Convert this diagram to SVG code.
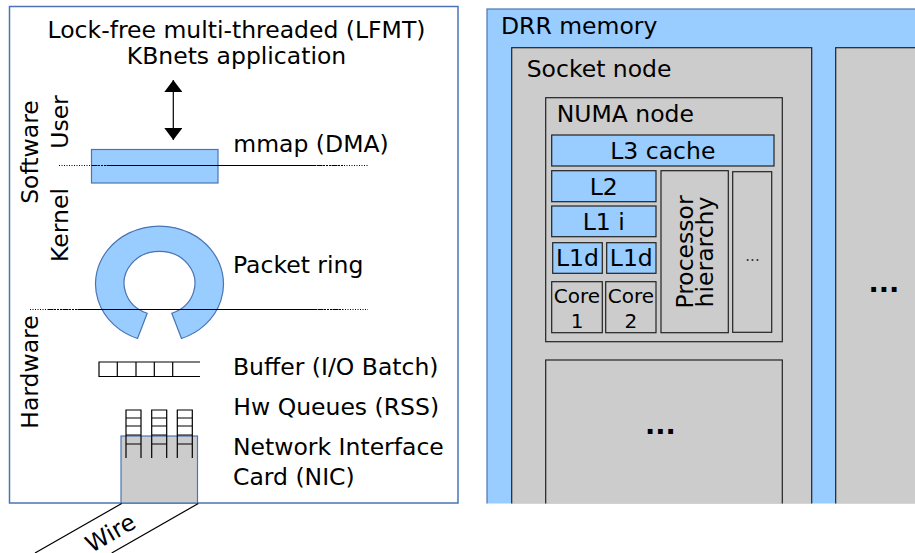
<svg xmlns="http://www.w3.org/2000/svg" width="915" height="553" viewBox="0 0 915 553">
  <style>
    text { font-family: "DejaVu Sans", "Liberation Sans", sans-serif; font-size: 23.5px; fill: #000; }
    .mid { text-anchor: middle; }
    .panel { fill: #fff; stroke: #4a74b5; stroke-width: 1.5; }
    .blue { fill: #99ccff; stroke: #4a74b5; stroke-width: 1.2; }
    .cache { fill: #99ccff; stroke: #222; stroke-width: 1.2; }
    .grey { fill: #cccccc; stroke: #222; stroke-width: 1.2; }
    .greyb { fill: #cccccc; stroke: #4a74b5; stroke-width: 1.2; }
    .ink { fill: none; stroke: #000; stroke-width: 1.2; }
    .dot { fill: none; stroke: #000; stroke-width: 1; stroke-dasharray: 1 1.5; }
    .dash { fill: none; stroke: #000; stroke-width: 1.1; stroke-dasharray: 2 1; }
    .core { font-size: 20px; }
    .small { font-size: 15px; fill: #333; }
    .dots { font-size: 27px; font-weight: bold; }
  </style>
  <defs>
    <marker id="head" viewBox="0 0 12 18" refX="12" refY="9" markerWidth="12" markerHeight="18" markerUnits="userSpaceOnUse" orient="auto-start-reverse">
      <path d="M0,0 L12,9 L0,18 Z" fill="#000"/>
    </marker>
    <clipPath id="cut">
      <rect x="0" y="0" width="915" height="503.5"/>
    </clipPath>
  </defs>

  <!-- Left: software / hardware stack -->
  <g id="stack-panel">
    <rect class="panel" x="9.5" y="6.5" width="448.5" height="496.5"/>
  </g>

  <g id="application">
    <text class="mid" x="236.5" y="38">Lock-free multi-threaded (LFMT)</text>
    <text class="mid" x="236.5" y="64">KBnets application</text>
  </g>

  <g id="layer-labels">
    <text class="mid" transform="translate(38,152) rotate(-90)">Software</text>
    <text class="mid" transform="translate(68,122) rotate(-90)">User</text>
    <text class="mid" transform="translate(68,225) rotate(-90)">Kernel</text>
    <text class="mid" transform="translate(38,372) rotate(-90)">Hardware</text>
  </g>

  <g id="mmap">
    <rect class="blue" x="91.5" y="149.5" width="126.5" height="33.5"/>
    <text x="233.3" y="151.5">mmap (DMA)</text>
  </g>

  <g id="packet-ring">
    <path class="blue" d="M137.5,338.5 A64,58 0 1 1 181.5,338.5 L171.8,313.3 A35.4,32 0 1 0 147.2,313.3 Z"/>
    <text x="233" y="273.3">Packet ring</text>
  </g>

  <g id="buffer">
    <path class="ink" d="M200,362 H99 V376.5 H200 M117.3,362 V376.5 M136,362 V376.5 M154.3,362 V376.5 M172.7,362 V376.5"/>
    <text x="233" y="375">Buffer (I/O Batch)</text>
  </g>

  <g id="nic">
    <rect class="greyb" x="121" y="436" width="76.5" height="67"/>
    <text x="233" y="455">Network Interface</text>
    <text x="233" y="485">Card (NIC)</text>
  </g>

  <g id="hw-queues">
    <path class="ink" d="M126,458 V410 H141 V458 M126,418 H141 M126,426 H141 M126,435 H141 M126,444 H141"/>
    <path class="ink" d="M151.7,458 V410 H166.7 V458 M151.7,418 H166.7 M151.7,426 H166.7 M151.7,435 H166.7 M151.7,444 H166.7"/>
    <path class="ink" d="M177.3,458 V410 H192.3 V458 M177.3,418 H192.3 M177.3,426 H192.3 M177.3,435 H192.3 M177.3,444 H192.3"/>
    <text x="233.3" y="415">Hw Queues (RSS)</text>
  </g>

  <g id="wire">
    <path class="ink" d="M121.7,503.5 L35,553 M198.3,503.5 L111.7,553"/>
    <text class="mid" transform="translate(114.5,540) rotate(-29.8)">Wire</text>
  </g>

  <!-- Right: memory / processor hierarchy -->
  <g clip-path="url(#cut)">
    <g id="drr-memory">
      <rect class="blue" x="487" y="9" width="440" height="520"/>
      <text x="501" y="33.5">DRR memory</text>
    </g>
    <g id="socket-node">
      <rect class="grey" x="511.7" y="47.7" width="300" height="480"/>
      <text x="526.7" y="76.7">Socket node</text>
    </g>
    <g id="socket-node-2">
      <rect class="grey" x="835.7" y="47.7" width="100" height="480"/>
      <text class="dots mid" x="884" y="292">...</text>
    </g>
    <g id="numa-node">
      <rect class="grey" x="545.7" y="97.7" width="236.6" height="244"/>
      <text x="556.7" y="121.7">NUMA node</text>
    </g>
    <g id="l3-cache">
      <rect class="cache" x="551.7" y="135" width="222.3" height="31"/>
      <text class="mid" x="662.8" y="159">L3 cache</text>
    </g>
    <g id="l2">
      <rect class="cache" x="551.7" y="170.7" width="104.3" height="31"/>
      <text class="mid" x="603.8" y="195">L2</text>
    </g>
    <g id="l1i">
      <rect class="cache" x="551.7" y="206" width="104.3" height="30.7"/>
      <text class="mid" x="603.8" y="230">L1 i</text>
    </g>
    <g id="l1d-1">
      <rect class="cache" x="552.7" y="242.7" width="49.6" height="30.6"/>
      <text class="mid" x="577.5" y="266">L1d</text>
    </g>
    <g id="l1d-2">
      <rect class="cache" x="606.7" y="242.7" width="49.3" height="30.6"/>
      <text class="mid" x="631.3" y="266">L1d</text>
    </g>
    <g id="core-1">
      <rect class="grey" x="551.7" y="281.7" width="50.6" height="51"/>
      <text class="mid core" x="577" y="302.7">Core</text>
      <text class="mid core" x="577" y="328.3">1</text>
    </g>
    <g id="core-2">
      <rect class="grey" x="605.7" y="281.7" width="50.3" height="51"/>
      <text class="mid core" x="630.9" y="302.7">Core</text>
      <text class="mid core" x="630.9" y="328.3">2</text>
    </g>
    <g id="processor-hierarchy">
      <rect class="grey" x="661" y="170.7" width="67.3" height="162"/>
      <text class="mid" transform="translate(693,252) rotate(-90)">Processor</text>
      <text class="mid" transform="translate(713,252) rotate(-90)">hierarchy</text>
    </g>
    <g id="more-processors">
      <rect class="grey" x="732.7" y="171.7" width="39" height="160.6"/>
      <text class="mid small" x="752.5" y="261">...</text>
    </g>
    <g id="numa-node-2">
      <rect class="grey" x="545.7" y="360" width="236.6" height="170"/>
      <text class="dots mid" x="660.5" y="434">...</text>
    </g>
  </g>

  <!-- Connectors and boundary lines -->
  <g id="connectors">
    <line class="ink" x1="173.3" y1="80" x2="173.3" y2="140" marker-start="url(#head)" marker-end="url(#head)"/>
    <line class="dot" x1="59" y1="165.5" x2="368" y2="165.5"/>
    <line class="dash" x1="92" y1="165.5" x2="343" y2="165.5"/>
    <line class="ink" x1="110" y1="165.5" x2="315" y2="165.5"/>
    <line class="dot" x1="30" y1="309.5" x2="368" y2="309.5"/>
    <line class="dash" x1="48" y1="309.5" x2="343" y2="309.5"/>
    <line class="ink" x1="83" y1="309.5" x2="315" y2="309.5"/>
  </g>
</svg>
